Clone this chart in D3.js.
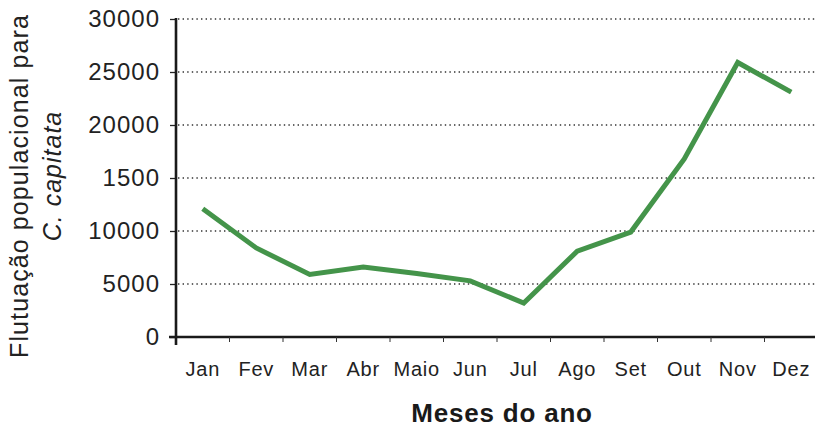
<!DOCTYPE html>
<html>
<head>
<meta charset="utf-8">
<script src="https://cdn.jsdelivr.net/npm/d3@7"></script>
<style>
  body { margin: 0; background: #fff; }
  svg { display: block; font-family: "Liberation Sans", Arial, sans-serif; }
</style>
</head>
<body>
<div id="chart"></div>
<script>
const months = ['Jan', 'Fev', 'Mar', 'Abr', 'Maio', 'Jun', 'Jul', 'Ago', 'Set', 'Out', 'Nov', 'Dez'];
const values = [12100, 8400, 5900, 6600, 6000, 5300, 3200, 8100, 9900, 16800, 25900, 23100];
const yTicks = [0, 5000, 10000, 15000, 20000, 25000, 30000];
const yTickLabels = ['0', '5000', '10000', '1500', '20000', '25000', '30000'];

const width = 815;
const height = 427;

const svg = d3.select('#chart')
  .append('svg')
    .attr('width', width)
    .attr('height', height);

const x = d3.scaleBand()
  .domain(months)
  .range([176, 818]);

const y = d3.scaleLinear()
  .domain([0, 30000])
  .range([337, 19]);

// dotted gridlines
svg.append('g')
  .selectAll('line')
  .data(yTicks.slice(1))
  .enter()
    .append('line')
      .attr('x1', 178)
      .attr('x2', width)
      .attr('y1', d => y(d))
      .attr('y2', d => y(d))
      .attr('stroke', '#333')
      .attr('stroke-width', 1.4)
      .attr('stroke-dasharray', '1.4,3.2');

// y axis
const yAxis = svg.append('g')
  .attr('transform', 'translate(176,0)')
  .call(d3.axisLeft(y)
    .tickValues(yTicks)
    .tickFormat((d, i) => yTickLabels[i])
    .tickSize(6)
    .tickPadding(10));
yAxis.select('.domain').remove();
yAxis.selectAll('.tick line').attr('stroke', '#222').attr('stroke-width', 1.3);
yAxis.selectAll('.tick text')
  .attr('fill', '#222')
  .style('font-size', '24px')
  .style('letter-spacing', '1px');

svg.append('line')
  .attr('x1', 176).attr('x2', 176)
  .attr('y1', y(30000) - 1).attr('y2', 345)
  .attr('stroke', '#1a1a1a')
  .attr('stroke-width', 2.6);

// x axis
const xAxis = svg.append('g')
  .attr('transform', 'translate(0,337)')
  .call(d3.axisBottom(x).tickSize(0));
xAxis.select('.domain').remove();
xAxis.selectAll('.tick text')
  .attr('y', 39)
  .attr('dy', 0)
  .attr('fill', '#222')
  .style('font-size', '20px')
  .style('letter-spacing', '0.8px');

svg.append('line')
  .attr('x1', 169).attr('x2', width)
  .attr('y1', 337).attr('y2', 337)
  .attr('stroke', '#1a1a1a')
  .attr('stroke-width', 2.4);

svg.append('g')
  .selectAll('line')
  .data(months.slice(1))
  .enter()
    .append('line')
      .attr('x1', d => x(d))
      .attr('x2', d => x(d))
      .attr('y1', 337)
      .attr('y2', 342)
      .attr('stroke', '#333')
      .attr('stroke-width', 1);

// series
const line = d3.line()
  .x((d, i) => x(months[i]) + x.bandwidth() / 2)
  .y(d => y(d));

svg.append('path')
  .datum(values)
  .attr('d', line)
  .attr('fill', 'none')
  .attr('stroke', '#44944a')
  .attr('stroke-width', 5)
  .attr('stroke-linejoin', 'miter');

// axis titles
svg.append('text')
  .attr('transform', 'translate(28,186) rotate(-90)')
  .attr('text-anchor', 'middle')
  .attr('fill', '#222')
  .style('font-size', '25px')
  .style('letter-spacing', '1.1px')
  .text('Flutuação populacional para');

svg.append('text')
  .attr('transform', 'translate(61,176) rotate(-90)')
  .attr('text-anchor', 'middle')
  .attr('fill', '#222')
  .style('font-size', '25px')
  .style('font-style', 'italic')
  .style('letter-spacing', '1px')
  .text('C. capitata');

svg.append('text')
  .attr('x', 502)
  .attr('y', 422)
  .attr('text-anchor', 'middle')
  .attr('fill', '#1a1a1a')
  .style('font-size', '26px')
  .style('font-weight', 'bold')
  .style('letter-spacing', '0.8px')
  .text('Meses do ano');
</script>
</body>
</html>
